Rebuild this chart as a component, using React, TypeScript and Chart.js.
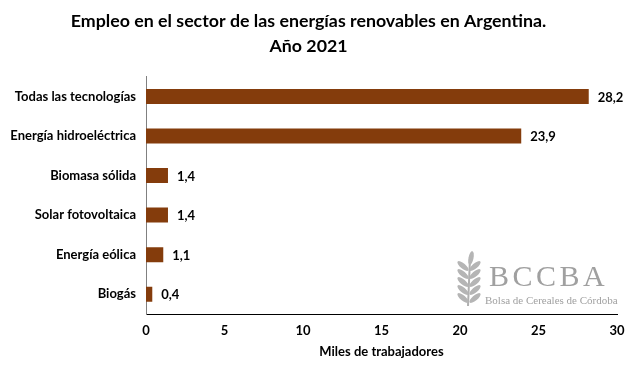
import React, { useEffect, useRef } from "react";
import { Chart, registerables } from "chart.js";

Chart.register(...registerables);

const categories = [
  "Todas las tecnologías",
  "Energía hidroeléctrica",
  "Biomasa sólida",
  "Solar fotovoltaica",
  "Energía eólica",
  "Biogás",
];
const values = [28.2, 23.9, 1.4, 1.4, 1.1, 0.4];
const titleLines = ["Empleo en el sector de las energías renovables en Argentina.", "Año 2021"];
const xTitle = "Miles de trabajadores";
const FONT = "Lato, 'Open Sans', sans-serif";

const labelPlugin = {
  id: "barLabels",
  afterDatasetsDraw(chart: any) {
    const ctx = chart.ctx;
    const meta = chart.getDatasetMeta(0);
    ctx.save();
    ctx.font = `bold 13px ${FONT}`;
    ctx.fillStyle = "#000";
    ctx.textAlign = "left";
    ctx.textBaseline = "middle";
    meta.data.forEach((bar: any, i: number) => {
      ctx.fillText(values[i].toFixed(1).replace(".", ","), bar.x + 9, bar.y + 1);
    });
    ctx.restore();
  },
};

const watermarkPlugin = {
  id: "watermark",
  afterDraw(chart: any) {
    const ctx = chart.ctx;
    ctx.save();
    ctx.fillStyle = "#a0a0a0";
    ctx.font = "30px 'Liberation Serif', serif";
    ctx.textBaseline = "alphabetic";
    ctx.textAlign = "left";
    const letters = ["B", "C", "C", "B", "A"];
    letters.forEach((l, i) => ctx.fillText(l, 489 + i * 23.5, 286));
    ctx.font = "11px 'Liberation Serif', serif";
    ctx.fillText("Bolsa de Cereales de Córdoba", 485, 304);
    // wheat stalk
    ctx.strokeStyle = "#b0b0b0";
    ctx.lineWidth = 2;
    ctx.beginPath();
    ctx.moveTo(470, 258);
    ctx.lineTo(468, 306);
    ctx.stroke();
    ctx.fillStyle = "#b5b5b5";
    for (let k = 0; k < 5; k++) {
      const y = 266 + k * 8;
      [-1, 1].forEach((s) => {
        ctx.beginPath();
        ctx.ellipse(469 + s * 6, y, 7, 2.6, s * -0.7, 0, Math.PI * 2);
        ctx.fill();
      });
    }
    ctx.beginPath();
    ctx.ellipse(471, 258, 2.5, 7, 0.2, 0, Math.PI * 2);
    ctx.fill();
    ctx.restore();
  },
};

export default function App() {
  const ref = useRef<HTMLCanvasElement>(null);
  useEffect(() => {
    document.body.style.margin = "0";
    const chart = new Chart(ref.current!, {
      type: "bar",
      data: {
        labels: categories,
        datasets: [
          {
            data: values,
            backgroundColor: "#843C0C",
            borderWidth: 0,
            categoryPercentage: 1,
            barPercentage: 0.38,
          },
        ],
      },
      options: {
        indexAxis: "y",
        responsive: false,
        animation: false,
        layout: { padding: { left: 0, right: 23, top: 0, bottom: 15 } },
        plugins: {
          legend: { display: false },
          tooltip: { enabled: false },
          title: {
            display: true,
            text: titleLines,
            color: "#000",
            font: { family: FONT, size: 17.8, weight: "bold", lineHeight: 1.45 },
            padding: { top: 8, bottom: 17 },
          },
        },
        scales: {
          x: {
            min: 0,
            max: 30,
            ticks: {
              stepSize: 5,
              color: "#000",
              font: { family: FONT, size: 13, weight: "bold" },
              padding: 9,
            },
            grid: { display: false, drawTicks: false },
            border: { display: true, color: "#000", width: 1 },
            title: {
              display: true,
              text: xTitle,
              color: "#000",
              font: { family: FONT, size: 13, weight: "bold" },
              padding: { top: 5 },
            },
            afterFit(scale: any) {
              scale.height = 50;
            },
          },
          y: {
            ticks: {
              color: "#000",
              font: { family: FONT, size: 13, weight: "bold" },
              padding: 10,
            },
            grid: { display: false, drawTicks: false },
            border: { display: true, color: "#808080", width: 1 },
            afterFit(scale: any) {
              scale.width = 146;
            },
          },
        },
      },
      plugins: [labelPlugin, watermarkPlugin],
    });
    return () => chart.destroy();
  }, []);
  return (
    <div style={{ width: 640, height: 379 }}>
      <canvas ref={ref} width={640} height={379} />
    </div>
  );
}
